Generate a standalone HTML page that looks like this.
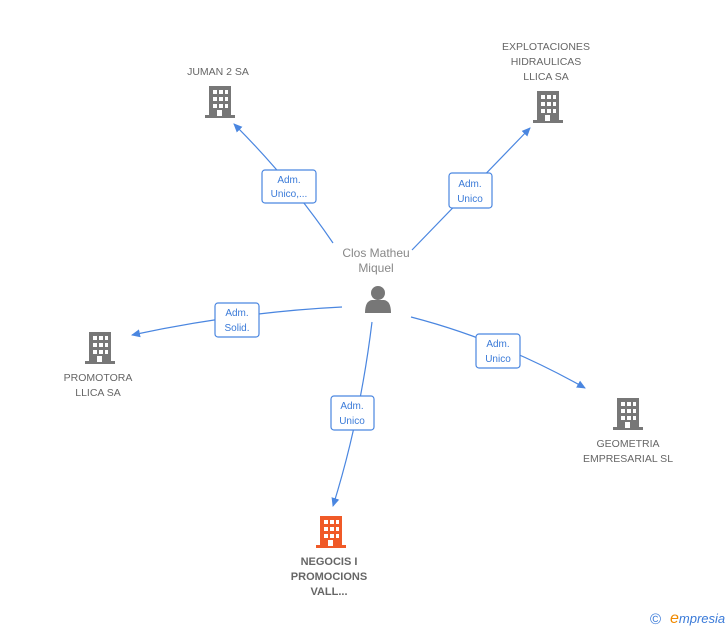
<!DOCTYPE html>
<html><head><style>
body{margin:0;background:#fff;width:728px;height:630px;overflow:hidden;font-family:"Liberation Sans",sans-serif}
svg{position:absolute;left:0;top:0}
</style></head><body>
<svg width="728" height="630" viewBox="0 0 728 630">
<defs>
<marker id="a" markerWidth="10" markerHeight="10" refX="8" refY="5" orient="auto" markerUnits="userSpaceOnUse"><path d="M0,1 L9,5 L0,9 Z" fill="#4a86e0"/></marker>
<g id="b">
<rect x="-11" y="-16" width="22" height="30" fill="currentColor"/>
<rect x="-15" y="13" width="30" height="3" fill="currentColor"/>
<g fill="#fff">
<rect x="-7" y="-12" width="4" height="4"/><rect x="-1" y="-12" width="4" height="4"/><rect x="5" y="-12" width="3" height="4"/>
<rect x="-7" y="-5" width="4" height="4"/><rect x="-1" y="-5" width="4" height="4"/><rect x="5" y="-5" width="3" height="4"/>
<rect x="-7" y="2" width="4" height="4"/><rect x="-1" y="2" width="4" height="4"/><rect x="5" y="2" width="3" height="4"/>
<rect x="-3" y="8" width="5" height="6"/>
</g></g>
</defs>
<g stroke="#4a86e0" stroke-width="1.2" fill="none" marker-end="url(#a)">
<path d="M333,243 Q290,180 234,124"/>
<path d="M412,250 Q470,190 530,128"/>
<path d="M342,307 Q240,312 132,335"/>
<path d="M411,317 Q500,340 585,388"/>
<path d="M372,322 Q360,420 333,506"/>
</g>
<g fill="#fff" stroke="#4a86e0" stroke-width="1.2">
<rect x="262" y="170" width="54" height="33" rx="3"/>
<rect x="449" y="173" width="43" height="35" rx="3"/>
<rect x="215" y="303" width="44" height="34" rx="3"/>
<rect x="476" y="334" width="44" height="34" rx="3"/>
<rect x="331" y="396" width="43" height="34" rx="3"/>
</g>
<g fill="#3a7ad8" font-size="10" text-anchor="middle">
<text x="289" y="183">Adm.</text><text x="289" y="197">Unico,...</text>
<text x="470" y="187">Adm.</text><text x="470" y="202">Unico</text>
<text x="237" y="316">Adm.</text><text x="237" y="331">Solid.</text>
<text x="498" y="347">Adm.</text><text x="498" y="362">Unico</text>
<text x="352" y="409">Adm.</text><text x="352" y="424">Unico</text>
</g>
<g color="#777">
<use href="#b" x="220" y="102"/>
<use href="#b" x="548" y="107"/>
<use href="#b" x="100" y="348"/>
<use href="#b" x="628" y="414"/>
</g>
<g color="#f05a28"><use href="#b" x="331" y="532"/></g>
<g fill="#777">
<circle cx="378" cy="293" r="7"/>
<path d="M365,313 Q365,301 372,300 L384,300 Q391,301 391,313 Z"/>
</g>
<g fill="#666" font-size="10.5" text-anchor="middle">
<text x="376" y="257" font-size="12" fill="#888">Clos Matheu</text>
<text x="376" y="272" font-size="12" fill="#888">Miquel</text>
<text x="218" y="75">JUMAN 2 SA</text>
<text x="546" y="50">EXPLOTACIONES</text><text x="546" y="65">HIDRAULICAS</text><text x="546" y="80">LLICA SA</text>
<text x="98" y="381">PROMOTORA</text><text x="98" y="396">LLICA SA</text>
<text x="628" y="447">GEOMETRIA</text><text x="628" y="462">EMPRESARIAL SL</text>
<g font-weight="bold" font-size="11"><text x="329" y="565">NEGOCIS I</text><text x="329" y="580">PROMOCIONS</text><text x="329" y="595">VALL...</text></g>
</g>
<text x="650" y="624" font-size="15" fill="#3a7ad8">©</text>
<text x="670" y="623" font-size="13" font-style="italic" fill="#3a7ad8"><tspan fill="#f08a00" font-size="16">e</tspan>mpresia</text>
</svg>
</body></html>
